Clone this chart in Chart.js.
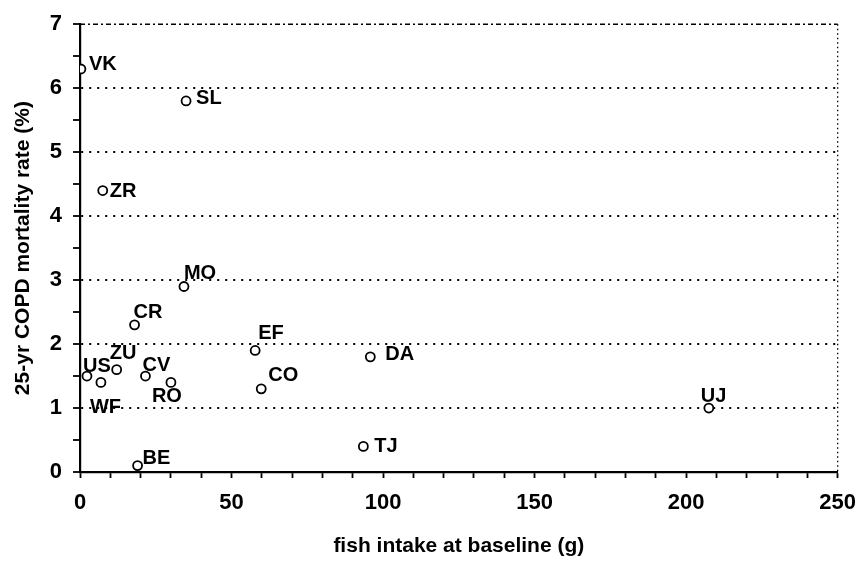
<!DOCTYPE html>
<html>
<head>
<meta charset="utf-8">
<script src="https://cdn.jsdelivr.net/npm/chart.js@4"></script>
<style>
  html, body { margin: 0; padding: 0; background: #fff; }
  #wrap { width: 868px; height: 567px; }
</style>
</head>
<body>
<div id="wrap"><canvas id="fishChart" width="868" height="567"></canvas></div>
<script>
// Coortes (códigos) e valores
const cohorts = ['VK', 'SL', 'ZR', 'MO', 'CR', 'EF', 'DA', 'US', 'ZU', 'CV', 'WF', 'RO', 'CO', 'UJ', 'TJ', 'BE'];
const fishIntake = [0.3, 35, 7.5, 34.3, 18, 57.8, 95.8, 2.3, 12.1, 21.6, 6.9, 30, 59.8, 207.5, 93.5, 19];
const copdMortality = [6.3, 5.8, 4.4, 2.9, 2.3, 1.9, 1.8, 1.5, 1.6, 1.5, 1.4, 1.4, 1.3, 1.0, 0.4, 0.1];

// deslocamento do rótulo em relação ao ponto (px)
const labelOffsets = {
  VK: [8, -4], SL: [10, -2], ZR: [7, 1], MO: [0, -13], CR: [-1, -12], EF: [3, -17],
  DA: [15, -2], US: [-4, -10], ZU: [-7, -16], CV: [-3, -11], WF: [-11, 25],
  RO: [-19, 14], CO: [7, -13], UJ: [-8, -12], TJ: [11, 0], BE: [5, -7]
};

const points = fishIntake.map((x, i) => ({ x: x, y: copdMortality[i] }));

// Rótulos dos pontos + bordas de cima e da direita
const extrasPlugin = {
  id: 'extras',
  afterDatasetsDraw(chart) {
    const ctx = chart.ctx;
    const area = chart.chartArea;
    ctx.save();
    ctx.strokeStyle = '#000';
    // topo: traço-ponto
    ctx.lineWidth = 1.6;
    ctx.setLineDash([5, 3, 2, 3]);
    ctx.beginPath();
    ctx.moveTo(area.left, area.top);
    ctx.lineTo(area.right, area.top);
    ctx.stroke();
    // direita: pontilhado fino
    ctx.lineWidth = 1.3;
    ctx.setLineDash([1.5, 3]);
    ctx.beginPath();
    ctx.moveTo(area.right, area.top);
    ctx.lineTo(area.right, area.bottom);
    ctx.stroke();
    ctx.setLineDash([]);

    ctx.fillStyle = '#000';
    ctx.font = 'bold 20px "Liberation Sans", Arial, sans-serif';
    ctx.textAlign = 'left';
    ctx.textBaseline = 'middle';
    const meta = chart.getDatasetMeta(0);
    meta.data.forEach((pt, i) => {
      const name = cohorts[i];
      const off = labelOffsets[name] || [6, 0];
      ctx.fillText(name, pt.x + off[0], pt.y + off[1]);
    });
    ctx.restore();
  }
};

const tickFont = { family: '"Liberation Sans", Arial, sans-serif', size: 22, weight: 'bold' };
const titleFont = { family: '"Liberation Sans", Arial, sans-serif', size: 21, weight: 'bold' };

const config = {
  type: 'scatter',
  data: {
    datasets: [{
      label: 'COPD',
      data: points,
      pointRadius: 4.5,
      pointHoverRadius: 4.5,
      pointBorderWidth: 1.8,
      pointBorderColor: '#000',
      pointBackgroundColor: '#fff'
    }]
  },
  options: {
    responsive: false,
    animation: false,
    layout: { padding: { top: 17, right: 23, left: 0, bottom: 0 } },
    plugins: { legend: { display: false }, tooltip: { enabled: false } },
    scales: {
      x: {
        type: 'linear',
        min: 0,
        max: 250,
        afterFit: (scale) => { scale.height = 95; },
        ticks: {
          stepSize: 10,
          autoSkip: false,
          maxRotation: 0,
          padding: 12,
          color: '#000',
          font: tickFont,
          callback: (v) => (v % 50 === 0 ? v : '')
        },
        grid: {
          drawOnChartArea: false,
          drawTicks: true,
          tickLength: 6,
          tickColor: '#000',
          tickWidth: 1.8
        },
        border: { display: true, color: '#000', width: 2.2 },
        title: {
          display: true,
          text: 'fish intake at baseline (g)',
          color: '#000',
          font: titleFont,
          padding: { top: 0, bottom: 8 }
        }
      },
      y: {
        type: 'linear',
        min: 0,
        max: 7,
        afterFit: (scale) => { scale.width = 80; },
        ticks: {
          stepSize: 0.5,
          autoSkip: false,
          padding: 11,
          color: '#000',
          font: tickFont,
          callback: (v) => (Number.isInteger(v) ? v : '')
        },
        grid: {
          color: (c) => {
            const v = c.tick ? c.tick.value : null;
            return Number.isInteger(v) && v > 0 && v < 7 ? '#000' : 'rgba(0,0,0,0)';
          },
          lineWidth: 2,
          drawTicks: true,
          tickLength: 7,
          tickColor: '#000',
          tickWidth: 1.8,
          tickBorderDash: []
        },
        border: { display: true, color: '#000', width: 2.2, dash: [2, 6] },
        title: {
          display: true,
          text: '25-yr COPD mortality rate (%)',
          color: '#000',
          font: titleFont,
          padding: { top: 11, bottom: 0 }
        }
      }
    }
  },
  plugins: [extrasPlugin]
};

const ctx = document.getElementById('fishChart').getContext('2d');
new Chart(ctx, config);
</script>
</body>
</html>
